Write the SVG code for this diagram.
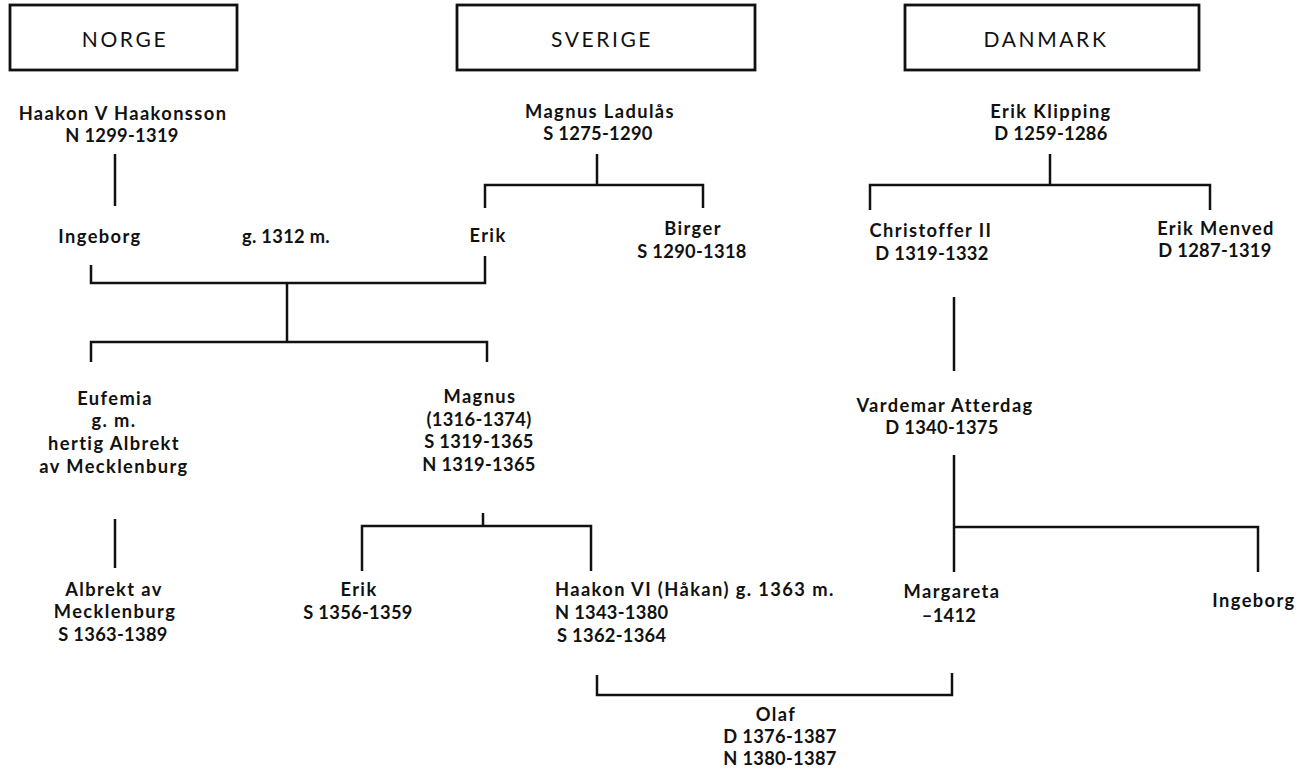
<svg xmlns="http://www.w3.org/2000/svg" width="1302" height="769" viewBox="0 0 1302 769">
<style>
  text { font-family: Lato, "Open Sans", "Liberation Sans", sans-serif; font-size: 18.3px; font-weight: 700; fill: #111; text-anchor: middle; letter-spacing: 1.4px; }
  .num { letter-spacing: 0.3px; }
  .hdr { font-size: 21px; font-weight: 400; letter-spacing: 2.6px; }
  .start { text-anchor: start; }
  .box { fill: #fff; stroke: #111; stroke-width: 2.8; }
  .ln { fill: none; stroke: #111; stroke-width: 2.5; stroke-linecap: butt; stroke-linejoin: miter; }
</style>
<rect width="1302" height="769" fill="#fff"/>

<g id="connectors">
  <path class="ln" d="M115,154 V206"/>
  <path class="ln" d="M91,265 V283 H485 V256"/>
  <path class="ln" d="M287,283 V342"/>
  <path class="ln" d="M91,362 V342 H487 V362"/>
  <path class="ln" d="M597,154 V185"/>
  <path class="ln" d="M485,208 V185 H703 V208"/>
  <path class="ln" d="M1050,154 V185"/>
  <path class="ln" d="M870,210 V185 H1210 V210"/>
  <path class="ln" d="M954,297 V371"/>
  <path class="ln" d="M954,455 V572"/>
  <path class="ln" d="M954,527 H1258 V572"/>
  <path class="ln" d="M115,519 V568"/>
  <path class="ln" d="M483,513 V526"/>
  <path class="ln" d="M362,571 V526 H591 V571"/>
  <path class="ln" d="M597,675 V695 H952 V673"/>
</g>

<g id="norge">
  <rect class="box" x="10" y="5" width="227" height="65"/>
  <text class="hdr" x="125" y="47">NORGE</text>
</g>
<g id="sverige">
  <rect class="box" x="457" y="5" width="298" height="65"/>
  <text class="hdr" x="602" y="47">SVERIGE</text>
</g>
<g id="danmark">
  <rect class="box" x="905" y="5" width="294" height="65"/>
  <text class="hdr" x="1046" y="47">DANMARK</text>
</g>

<g id="haakon-v">
  <text x="123" y="120">Haakon V Haakonsson</text>
  <text class="num" x="122" y="142">N 1299-1319</text>
</g>
<g id="magnus-ladulas">
  <text x="600" y="118">Magnus Ladulås</text>
  <text class="num" x="598" y="140">S 1275-1290</text>
</g>
<g id="erik-klipping">
  <text x="1051" y="118">Erik Klipping</text>
  <text class="num" x="1051" y="140">D 1259-1286</text>
</g>
<g id="ingeborg-n">
  <text x="100" y="243">Ingeborg</text>
</g>
<g id="marriage-1312">
  <text class="num" x="286" y="243">g. 1312 m.</text>
</g>
<g id="erik-s">
  <text x="488" y="242">Erik</text>
</g>
<g id="birger">
  <text x="693" y="235">Birger</text>
  <text class="num" x="692" y="258">S 1290-1318</text>
</g>
<g id="christoffer">
  <text x="931" y="237">Christoffer II</text>
  <text class="num" x="932" y="260">D 1319-1332</text>
</g>
<g id="erik-menved">
  <text x="1216" y="235">Erik Menved</text>
  <text class="num" x="1215" y="257">D 1287-1319</text>
</g>
<g id="eufemia">
  <text x="115" y="405">Eufemia</text>
  <text x="114" y="427">g. m.</text>
  <text x="114" y="450">hertig Albrekt</text>
  <text x="114" y="473">av Mecklenburg</text>
</g>
<g id="magnus">
  <text x="480" y="403">Magnus</text>
  <text class="num" x="479" y="426">(1316-1374)</text>
  <text class="num" x="479" y="448">S 1319-1365</text>
  <text class="num" x="479" y="471">N 1319-1365</text>
</g>
<g id="valdemar">
  <text x="945" y="412">Vardemar Atterdag</text>
  <text class="num" x="942" y="434">D 1340-1375</text>
</g>
<g id="albrekt">
  <text x="114" y="596">Albrekt av</text>
  <text x="115" y="618">Mecklenburg</text>
  <text class="num" x="113" y="641">S 1363-1389</text>
</g>
<g id="erik-magnusson">
  <text x="359" y="596">Erik</text>
  <text class="num" x="358" y="619">S 1356-1359</text>
</g>
<g id="haakon-vi">
  <text class="start" x="555" y="596">Haakon VI (Håkan) g. 1363 m.</text>
  <text class="start num" x="555" y="619">N 1343-1380</text>
  <text class="start num" x="557" y="642">S 1362-1364</text>
</g>
<g id="margareta">
  <text x="952" y="598">Margareta</text>
  <text class="num" x="949" y="622">–1412</text>
</g>
<g id="ingeborg-d">
  <text x="1254" y="607">Ingeborg</text>
</g>
<g id="olaf">
  <text x="776" y="721">Olaf</text>
  <text class="num" x="780" y="743">D 1376-1387</text>
  <text class="num" x="780" y="765">N 1380-1387</text>
</g>
</svg>
